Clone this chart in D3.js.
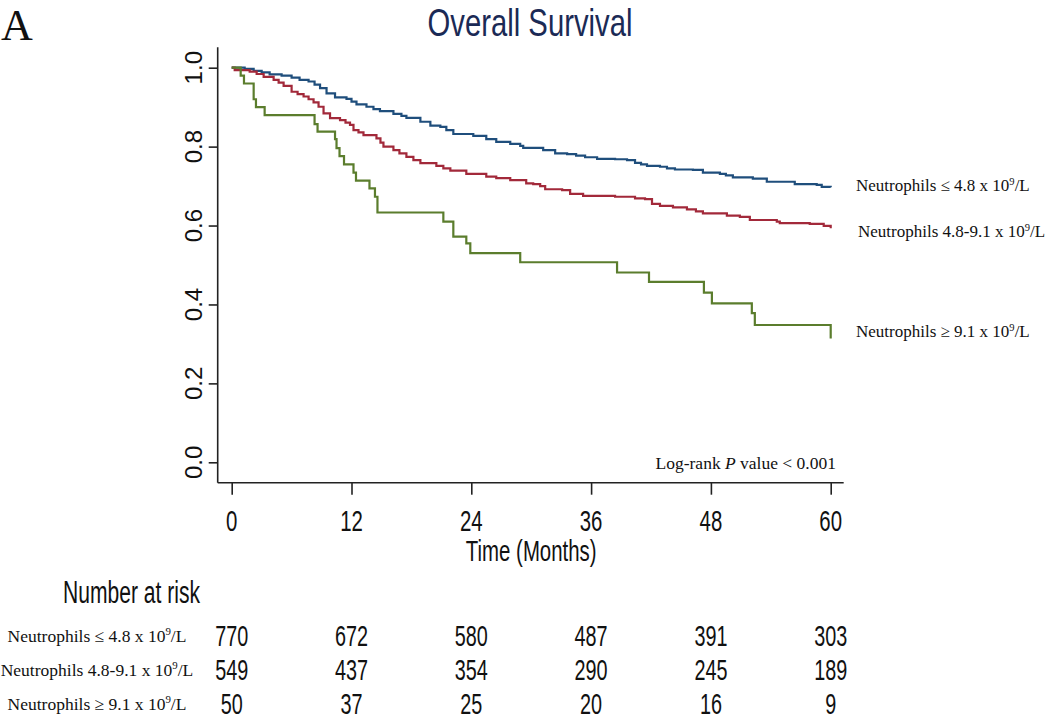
<!DOCTYPE html>
<html><head><meta charset="utf-8">
<script src="https://cdn.jsdelivr.net/npm/d3@7"></script>
<style>body{margin:0;background:#fff} svg{display:block}</style>
</head><body><svg id="c" width="1050" height="719"></svg>
<script>
// ---------- data ----------
const timeTicks = [0, 12, 24, 36, 48, 60];
const survTicks = [0.0, 0.2, 0.4, 0.6, 0.8, 1.0];
const groupNames = ["≤ 4.8", "4.8-9.1", "≥ 9.1"];
const groupColors = ["#1f4e7c", "#a2293a", "#5b7d2d"];

const lowTimes = [0,1.3,2.2,3.0,3.8,5.0,6.0,6.8,7.7,8.3,8.85,9.5,10.35,11.5,12.0,12.5,13.5,14.2,14.85,16.2,17.0,17.5,18.9,19.9,20.9,21.5,22.2,24.2,25.5,26.5,27.9,28.9,29.2,31.2,32.4,33.6,34.5,35.4,36.6,38.4,39.6,40.4,41.0,41.6,42.9,43.6,44.4,46.2,47.2,48.9,49.5,50.2,52.2,53.6,56.4,58.6,59.1,60];
const lowSurv  = [1.0,0.997,0.992,0.988,0.983,0.980,0.975,0.969,0.965,0.957,0.948,0.935,0.925,0.921,0.914,0.907,0.901,0.895,0.890,0.883,0.878,0.873,0.863,0.853,0.850,0.842,0.832,0.827,0.819,0.812,0.807,0.802,0.797,0.791,0.783,0.781,0.777,0.773,0.769,0.768,0.766,0.759,0.755,0.751,0.749,0.745,0.742,0.741,0.734,0.731,0.727,0.722,0.719,0.711,0.705,0.703,0.698,0.697];

const midTimes = [0,0.3,1.8,2.5,3.2,4.2,4.7,5.2,6.0,6.6,7.2,7.7,8.2,8.7,9.2,9.85,10.85,11.4,11.85,12.2,12.7,13.2,14.5,14.9,15.2,16.2,16.8,17.5,18.2,18.9,20.5,21.2,21.9,23.5,25.5,26.5,27.9,29.5,30.2,30.9,31.4,33.1,33.9,35.2,38.4,40.4,41.4,42.1,42.9,44.2,45.6,46.5,47.2,49.6,50.9,51.9,54.6,54.9,57.9,59.3,60];
const midSurv  = [1.0,0.994,0.990,0.984,0.977,0.969,0.962,0.954,0.939,0.933,0.927,0.920,0.912,0.901,0.884,0.872,0.867,0.861,0.855,0.842,0.836,0.829,0.821,0.810,0.800,0.791,0.783,0.774,0.766,0.758,0.751,0.745,0.739,0.731,0.724,0.720,0.715,0.707,0.705,0.700,0.692,0.690,0.680,0.675,0.673,0.669,0.667,0.655,0.650,0.646,0.641,0.636,0.631,0.625,0.622,0.614,0.610,0.606,0.604,0.599,0.593];

const highTimes = [0,0.9,1.23,2.2,2.43,3.3,8.3,8.6,10.35,10.5,10.8,11.25,12.2,12.45,13.8,14.35,14.6,21.2,22.2,23.5,23.9,28.9,38.6,41.8,47.3,48.1,52.1,52.4,60];
const highSurv  = [1.0,0.98,0.96,0.92,0.90,0.88,0.857,0.838,0.819,0.796,0.776,0.755,0.734,0.714,0.694,0.673,0.633,0.610,0.572,0.555,0.530,0.507,0.481,0.457,0.430,0.403,0.378,0.348,0.314];

const riskLow  = [770, 672, 580, 487, 391, 303];
const riskMid  = [549, 437, 354, 290, 245, 189];
const riskHigh = [50, 37, 25, 20, 16, 9];

// ---------- layout ----------
const svg = d3.select("#c");
const x = d3.scaleLinear().domain([0, 60]).range([231.7, 830.7]);
const y = d3.scaleLinear().domain([0, 1]).range([462.3, 67.7]);
const axisX0 = 217.7, axisY0 = 482.7;
const narrow = "'Liberation Sans', Arial, sans-serif";
const serif = "'Liberation Serif', 'Times New Roman', serif";

// panel letter
svg.append("text").attr("x", 1).attr("y", 40).attr("font-family", serif)
  .attr("font-size", 44).attr("fill", "#111").text("A");

// title
svg.append("text").attr("transform", "translate(530,36) scale(0.75,1)")
  .attr("text-anchor", "middle").attr("font-family", narrow).attr("font-size", 39)
  .attr("fill", "#1b2a55").text("Overall Survival");

// axes lines
const axCol = "#222";
svg.append("line").attr("x1", axisX0).attr("x2", axisX0)
  .attr("y1", y(1.052)).attr("y2", axisY0).attr("stroke", axCol).attr("stroke-width", 1.6);
svg.append("line").attr("x1", axisX0).attr("x2", x(61.3))
  .attr("y1", axisY0).attr("y2", axisY0).attr("stroke", axCol).attr("stroke-width", 1.6);

// y axis ticks
const gy = svg.append("g").attr("transform", `translate(${axisX0},0)`)
  .call(d3.axisLeft(y).tickValues(survTicks).tickSize(9).tickSizeOuter(0).tickFormat(""));
gy.select(".domain").remove();
gy.selectAll(".tick line").attr("stroke", axCol).attr("stroke-width", 1.6);
survTicks.forEach(v => {
  svg.append("text").attr("transform", `translate(202,${y(v)}) rotate(-90)`)
    .attr("text-anchor", "middle").attr("font-family", narrow).attr("font-size", 24)
    .attr("fill", "#111").text(v.toFixed(1));
});

// x axis ticks
const gx = svg.append("g").attr("transform", `translate(0,${axisY0})`)
  .call(d3.axisBottom(x).tickValues(timeTicks).tickSize(12).tickSizeOuter(0).tickFormat(""));
gx.select(".domain").remove();
gx.selectAll(".tick line").attr("stroke", axCol).attr("stroke-width", 1.6);
timeTicks.forEach(t => {
  svg.append("text").attr("transform", `translate(${x(t)},530.5) scale(0.68,1)`)
    .attr("text-anchor", "middle").attr("font-family", narrow).attr("font-size", 30)
    .attr("fill", "#111").text(t);
});
svg.append("text").attr("transform", `translate(${x(30)},561) scale(0.68,1)`)
  .attr("text-anchor", "middle").attr("font-family", narrow).attr("font-size", 30)
  .attr("fill", "#111").text("Time (Months)");

// curves
const series = [
  {t: lowTimes, s: lowSurv},
  {t: midTimes, s: midSurv},
  {t: highTimes, s: highSurv}
];
const line = d3.line().x(d => x(d[0])).y(d => y(d[1])).curve(d3.curveStepAfter);
series.forEach((sr, i) => {
  const pts = sr.t.map((t, k) => [t, sr.s[k]]);
  svg.append("path").datum(pts).attr("d", line).attr("fill", "none")
    .attr("stroke", groupColors[i]).attr("stroke-width", 2.2);
});

// legend labels
function groupLabel(sel, name, size) {
  sel.append("tspan").text("Neutrophils " + name + " x 10");
  sel.append("tspan").attr("font-size", size * 0.62).attr("dy", -size * 0.38).text("9");
  sel.append("tspan").attr("dy", size * 0.38).text("/L");
}
const legendX = [856, 858, 856];
const legendY = [191, 237, 337];
groupNames.forEach((g, i) => {
  const t = svg.append("text").attr("x", legendX[i]).attr("y", legendY[i])
    .attr("font-family", serif).attr("font-size", 17).attr("fill", "#111");
  groupLabel(t, g, 17);
});

// log-rank
const lr = svg.append("text").attr("x", 836).attr("y", 469).attr("text-anchor", "end")
  .attr("font-family", serif).attr("font-size", 17.5).attr("fill", "#111");
lr.append("tspan").text("Log-rank ");
lr.append("tspan").attr("font-style", "italic").text("P");
lr.append("tspan").text(" value < 0.001");

// number at risk
svg.append("text").attr("transform", "translate(63,603) scale(0.68,1)")
  .attr("font-family", narrow).attr("font-size", 31).attr("fill", "#111").text("Number at risk");
const riskRows = [riskLow, riskMid, riskHigh];
const rowY = [646, 680, 714];
riskRows.forEach((row, i) => {
  const t = svg.append("text").attr("x", 97).attr("y", rowY[i] - 4).attr("text-anchor", "middle")
    .attr("font-family", serif).attr("font-size", 17.5).attr("fill", "#111");
  groupLabel(t, groupNames[i], 17.5);
  row.forEach((n, k) => {
    svg.append("text").attr("transform", `translate(${x(timeTicks[k])},${rowY[i]}) scale(0.66,1)`)
      .attr("text-anchor", "middle").attr("font-family", narrow).attr("font-size", 30)
      .attr("fill", "#111").text(n);
  });
});
</script></body></html>
